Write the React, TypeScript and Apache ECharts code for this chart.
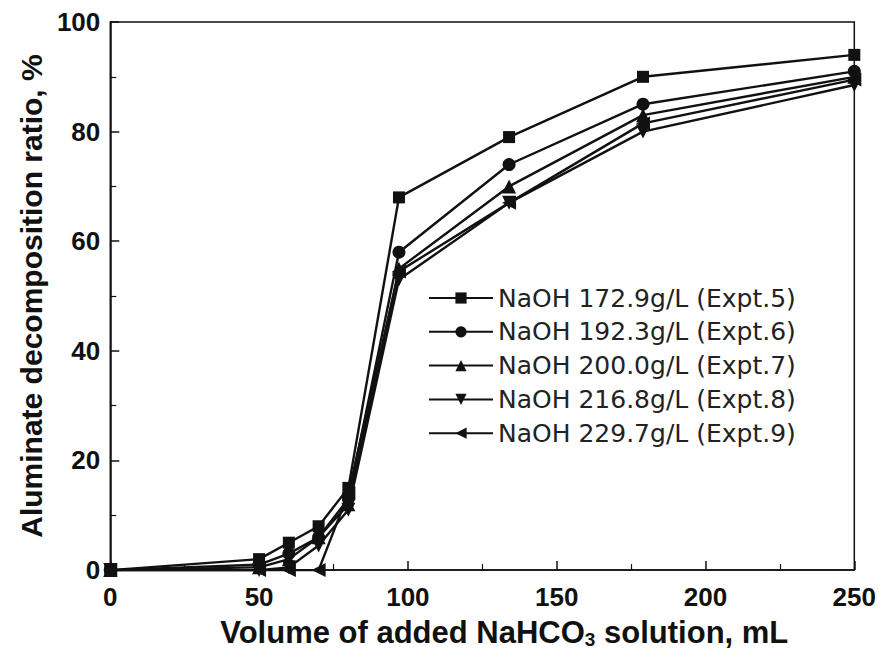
import React, { useEffect, useRef } from "react";
import * as echarts from "echarts";

const volumes = [0, 50, 60, 70, 80, 97, 134, 179, 250];
const seriesNames = [
  "NaOH 172.9g/L (Expt.5)",
  "NaOH 192.3g/L (Expt.6)",
  "NaOH 200.0g/L (Expt.7)",
  "NaOH 216.8g/L (Expt.8)",
  "NaOH 229.7g/L (Expt.9)",
];
const expt5 = [0, 2, 5, 8, 15, 68, 79, 90, 94];
const expt6 = [0, 1, 3, 6, 13, 58, 74, 85, 91];
const expt7 = [0, 0.5, 2, 6, 12, 55, 70, 83, 90];
const expt8 = [0, 0, 0.5, 4.5, 11, 53, 67, 80, 88.5];
const expt9 = [0, 0, 0, 0, 14, 54.5, 67, 81.5, 89.5];
const seriesValues = [expt5, expt6, expt7, expt8, expt9];
const symbols = [
  "rect",
  "circle",
  "triangle",
  "path://M0,0 L10,0 L5,10 Z",
  "path://M0,5 L10,0 L10,10 Z",
];
const symbolSizes = [12, 13, 14, 14, 14];
const xTicks = [0, 50, 100, 150, 200, 250];
const yTicks = [0, 20, 40, 60, 80, 100];

export default function App() {
  const ref = useRef<HTMLDivElement>(null);
  useEffect(() => {
    if (!ref.current) return;
    const chart = echarts.init(ref.current, null, { renderer: "svg" });
    const bold = "'Liberation Sans', Arial, Helvetica, sans-serif";
    const legendFont = "'DejaVu Sans', 'Liberation Sans', Arial, sans-serif";
    chart.setOption({
      animation: false,
      backgroundColor: "#ffffff",
      grid: {
        left: 100,
        right: 19,
        top: 14,
        bottom: 76,
        show: true,
        borderColor: "#111",
        borderWidth: 1.5,
        backgroundColor: "transparent",
      },
      legend: {
        orient: "vertical",
        left: 415,
        top: 272,
        itemWidth: 64,
        itemHeight: 14,
        itemGap: 7.8,
        data: seriesNames,
        textStyle: { fontFamily: legendFont, fontSize: 25, lineHeight: 26, color: "#222" },
      },
      xAxis: {
        type: "value",
        min: xTicks[0],
        max: xTicks[xTicks.length - 1],
        interval: 50,
        name: "Volume of added NaHCO{sub|3} solution, mL",
        nameLocation: "middle",
        nameGap: 43,
        nameTextStyle: {
          fontFamily: bold,
          fontSize: 31,
          fontWeight: "bold",
          color: "#111",
          lineHeight: 32,
          padding: [0, 0, 0, 44],
          rich: {
            sub: { fontFamily: bold, fontSize: 19, fontWeight: "bold", color: "#111", lineHeight: 32, padding: [15, 0, 0, 0] },
          },
        },
        axisLine: { show: true, onZero: false, lineStyle: { color: "#111", width: 1.5 } },
        axisTick: { show: true, inside: true, length: 9, lineStyle: { color: "#111", width: 1.5 } },
        minorTick: { show: true, splitNumber: 2, length: 6, lineStyle: { color: "#111", width: 1.2 } },
        splitLine: { show: false },
        axisLabel: {
          fontFamily: bold,
          fontSize: 26,
          fontWeight: "bold",
          color: "#111",
          margin: 14,
          showMaxLabel: true,
        },
      },
      yAxis: {
        type: "value",
        min: yTicks[0],
        max: yTicks[yTicks.length - 1],
        interval: 20,
        name: "Aluminate decomposition ratio, %",
        nameLocation: "middle",
        nameGap: 62,
        nameTextStyle: { fontFamily: bold, fontSize: 30, fontWeight: "bold", color: "#111" },
        axisLine: { show: true, onZero: false, lineStyle: { color: "#111", width: 1.5 } },
        axisTick: { show: true, inside: true, length: 9, lineStyle: { color: "#111", width: 1.5 } },
        minorTick: { show: true, splitNumber: 2, length: 6, lineStyle: { color: "#111", width: 1.2 } },
        splitLine: { show: false },
        axisLabel: {
          fontFamily: bold,
          fontSize: 26,
          fontWeight: "bold",
          color: "#111",
          margin: 10,
        },
      },
      series: seriesNames.map((name, i) => ({
        name,
        type: "line",
        data: volumes.map((v, j) => [v, seriesValues[i][j]]),
        symbol: symbols[i],
        symbolSize: symbolSizes[i],
        showAllSymbol: true,
        lineStyle: { color: "#111", width: 2.4 },
        itemStyle: { color: "#111", borderColor: "#111", borderWidth: 0 },
        clip: false,
      })),
    });
    return () => chart.dispose();
  }, []);
  return <div ref={ref} style={{ width: 871, height: 646 }} />;
}
